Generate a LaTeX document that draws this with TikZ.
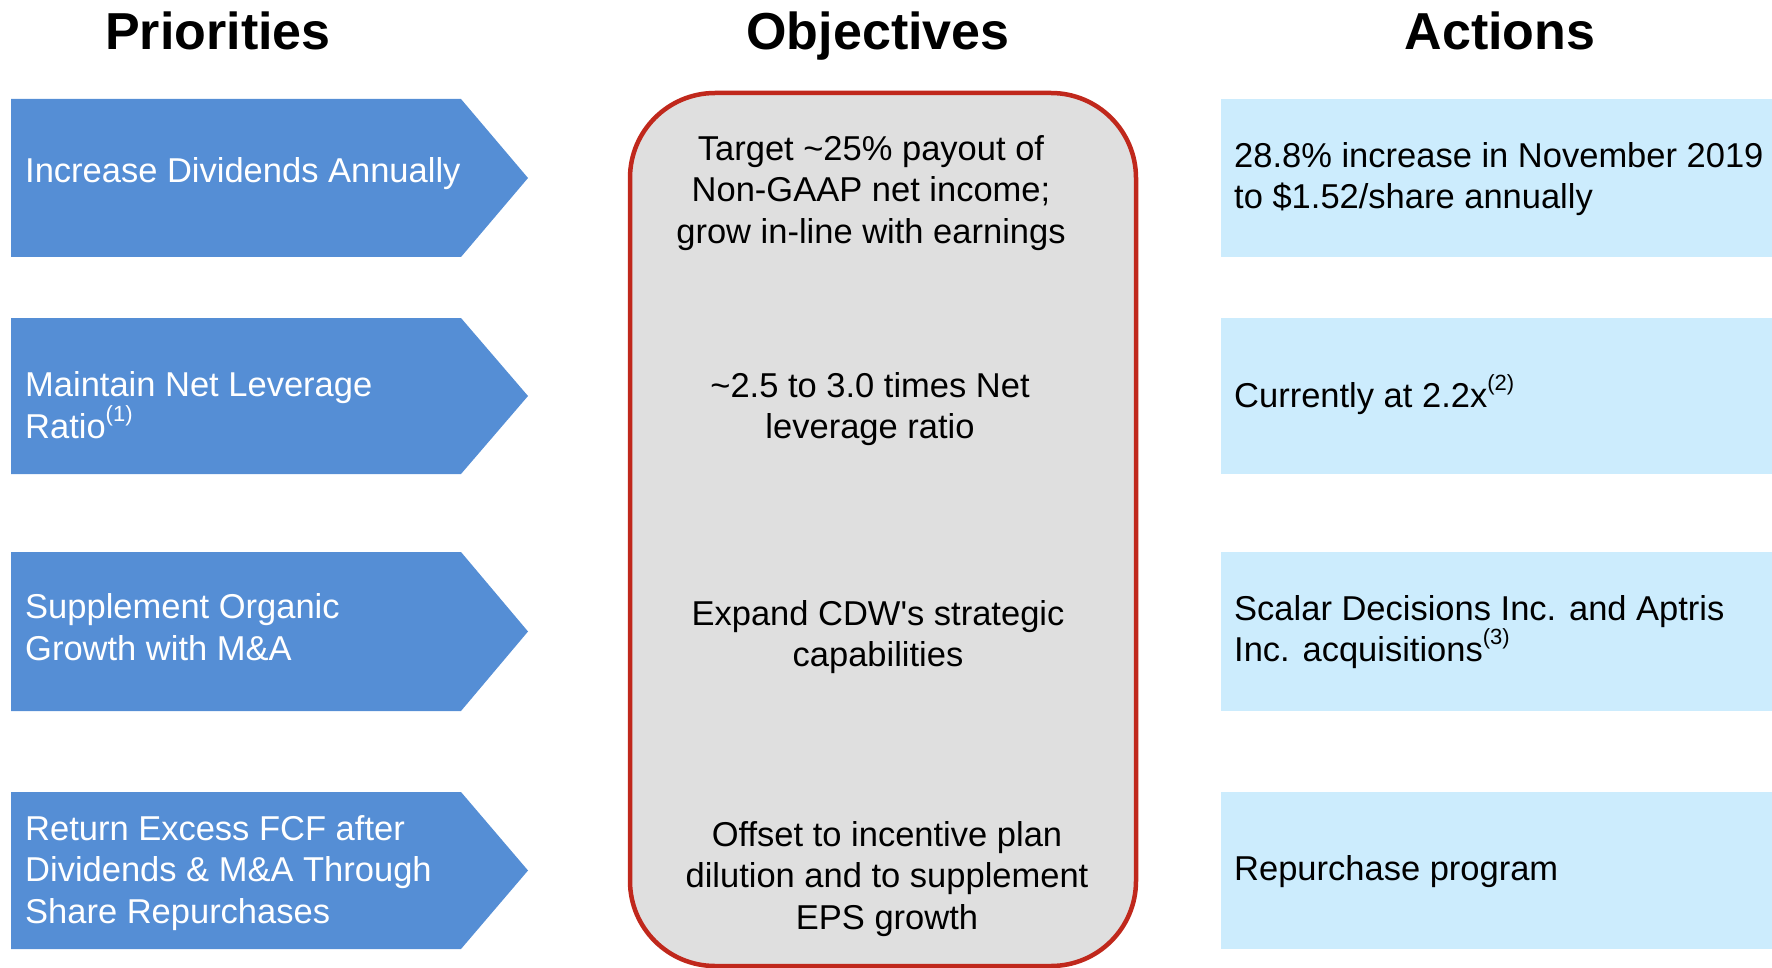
\documentclass[tikz,border=0pt]{standalone}
\usepackage{fontspec}
\setmainfont{Liberation Sans}[Ligatures=TeXOff]
\definecolor{prio}{HTML}{558ED5}
\definecolor{act}{HTML}{CCECFD}
\definecolor{objfill}{HTML}{DFDFDF}
\definecolor{objline}{HTML}{C0281C}
\newcommand\fnref[1]{\raisebox{17pt}{\fontsize{22}{22}\selectfont(#1)}}
\begin{document}
\begin{tikzpicture}[x=1pt,y=-1pt,
  head/.style={font=\fontsize{52}{60}\selectfont\bfseries, inner sep=0, anchor=base},
  body/.style={font=\fontsize{34.5}{41.5}\selectfont, inner sep=0},
  priotxt/.style={body, text=white, align=left, anchor=west},
  objtxt/.style={body, text=black, align=center, anchor=center},
  acttxt/.style={body, text=black, align=left, anchor=west},
  priofill/.style={fill=prio},
  actfill/.style={fill=act},
  objbox/.style={draw=objline, fill=objfill, line width=4.5pt, rounded corners=85pt}]
\useasboundingbox (0,0) rectangle (1772,968);

% headers
\node[head] (hP) at (218,50) {Priorities};
\node[head] (hO) at (878,50) {Objectives};
\node[head] (hA) at (1500,50) {Actions};

% priority arrows and action boxes
\foreach \t/\b in {99/257, 318/474, 552/711, 792/949}{
  \fill[priofill] (11,\t) -- (461,\t) -- (528,{(\t+\b)/2}) -- (461,\b) -- (11,\b) -- cycle;
  \fill[actfill] (1221,\t) rectangle (1772,\b);
}

% objectives box
\draw[objbox] (630,93) rectangle (1136,966);

% priority texts
\node[priotxt] (p1) at (25,174) {Increase Dividends Annually};
\node[priotxt] (p2) at (25,405) {Maintain Net Leverage\\Ratio\fnref{1}};
\node[priotxt] (p3) at (25,627) {Supplement Organic\\Growth with M\&A};
\node[priotxt] (p4) at (25,873) {Return Excess FCF after\\Dividends \& M\&A Through\\Share Repurchases};

% objective texts
\node[objtxt] (o1) at (871,193) {Target \textasciitilde25\% payout of\\Non-GAAP net income;\\grow in-line with earnings};
\node[objtxt] (o2) at (870,409) {\textasciitilde2.5 to 3.0 times Net\\leverage ratio};
\node[objtxt] (o3) at (878,637) {Expand CDW's strategic\\capabilities};
\node[objtxt] (o4) at (887,879) {Offset to incentive plan\\dilution and to supplement\\EPS growth};

% action texts
\node[acttxt] (a1) at (1234,179) {28.8\% increase in November 2019\\to \$1.52/share annually};
\node[acttxt] (a2) at (1234,395) {Currently at 2.2x\fnref{2}};
\node[acttxt] (a3) at (1234,632) {Scalar Decisions Inc. and Aptris\\Inc. acquisitions\fnref{3}};
\node[acttxt] (a4) at (1234,872) {Repurchase program};
\end{tikzpicture}
\end{document}
